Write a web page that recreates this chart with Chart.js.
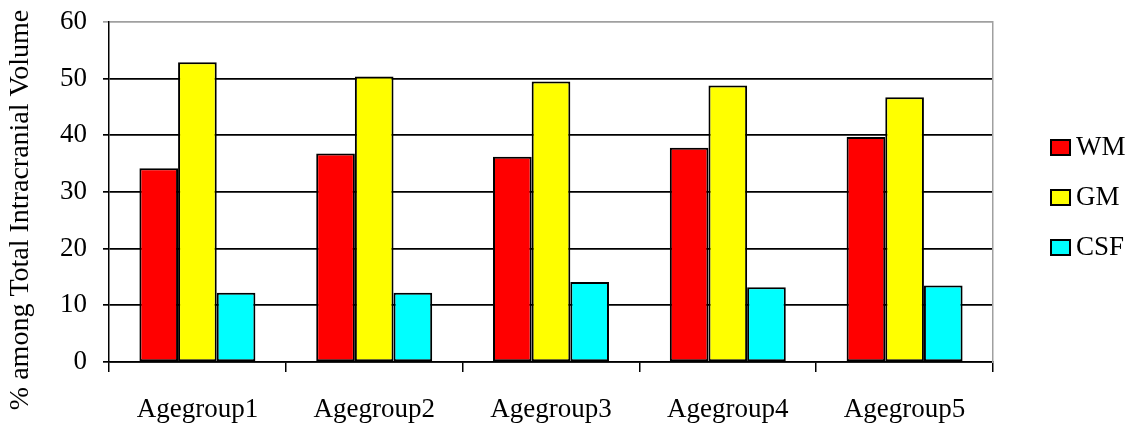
<!DOCTYPE html>
<html>
<head>
<meta charset="utf-8">
<script src="https://cdn.jsdelivr.net/npm/chart.js@4/dist/chart.umd.min.js"></script>
<style>
  html, body { margin: 0; padding: 0; background: #fff; }
  #wrap { width: 1142px; height: 429px; }
</style>
</head>
<body>
<div id="wrap"><canvas id="volumeChart" width="1142" height="429"></canvas></div>
<script>
var categories = ['Agegroup1', 'Agegroup2', 'Agegroup3', 'Agegroup4', 'Agegroup5'];
var wmValues = [34.2, 36.8, 36.2, 37.8, 39.7];
var gmValues = [52.9, 50.4, 49.5, 48.8, 46.7];
var csfValues = [12.2, 12.2, 14.1, 13.2, 13.5];
var seriesNames = ['WM', 'GM', 'CSF'];
var seriesColors = ['#ff0000', '#ffff00', '#00ffff'];
var yTitle = '% among Total Intracranial Volume';

var serifFont = "'Liberation Serif', 'Times New Roman', serif";

// legend on the right and the rotated axis title, drawn by hand
var sideDecor = {
    id: 'sideDecor',
    afterDraw: function(chart) {
        var ctx = chart.ctx;
        var area = chart.chartArea;
        var x = area.right + 58;
        var yStart = 147;
        ctx.save();
        ctx.font = '27px ' + serifFont;
        ctx.textBaseline = 'middle';
        chart.data.datasets.forEach(function(ds, i) {
            var y = yStart + i * 50;
            ctx.fillStyle = ds.backgroundColor;
            ctx.fillRect(x, y - 7, 19, 15);
            ctx.lineWidth = 2;
            ctx.strokeStyle = '#000';
            ctx.strokeRect(x, y - 7, 19, 15);
            ctx.fillStyle = '#000';
            ctx.fillText(ds.label, x + 25, y + 1);
        });

        ctx.translate(21, 210);
        ctx.rotate(-Math.PI / 2);
        ctx.font = '28px ' + serifFont;
        ctx.textAlign = 'center';
        ctx.fillStyle = '#000';
        ctx.fillText(yTitle, 0, 0);
        ctx.restore();
    }
};

function makeDataset(idx, values) {
    return {
        label: seriesNames[idx],
        data: values,
        backgroundColor: seriesColors[idx],
        borderColor: '#000',
        borderWidth: 2,
        borderSkipped: false,
        categoryPercentage: 0.656,
        barPercentage: 1.0
    };
}

new Chart(document.getElementById('volumeChart'), {
    type: 'bar',
    data: {
        labels: categories,
        datasets: [
            makeDataset(0, wmValues),
            makeDataset(1, gmValues),
            makeDataset(2, csfValues)
        ]
    },
    plugins: [sideDecor],
    options: {
        responsive: false,
        animation: false,
        devicePixelRatio: 1,
        layout: { padding: { top: 22, right: 149, left: 0, bottom: 0 } },
        plugins: {
            legend: { display: false },
            tooltip: { enabled: false }
        },
        scales: {
            x: {
                offset: true,
                grid: {
                    offset: true,
                    drawOnChartArea: false,
                    drawTicks: true,
                    tickLength: 10,
                    color: '#000',
                    lineWidth: 1.5
                },
                border: { color: '#000', width: 1.5 },
                ticks: {
                    color: '#000',
                    padding: 22,
                    font: { family: serifFont, size: 27 }
                },
                afterFit: function(scale) {
                    scale.height = 67;
                    scale.paddingLeft = 0;
                    scale.paddingRight = 0;
                }
            },
            y: {
                min: 0,
                max: 60,
                ticks: {
                    stepSize: 10,
                    color: '#000',
                    padding: 16,
                    font: { family: serifFont, size: 27 }
                },
                grid: {
                    color: function(c) { return c.tick && c.tick.value === 60 ? '#a0a0a0' : '#000'; },
                    lineWidth: 1.7,
                    drawTicks: true,
                    tickLength: 6
                },
                border: { color: '#000', width: 1.5 },
                afterFit: function(scale) {
                    scale.width = 109;
                    scale.paddingTop = 0;
                    scale.paddingBottom = 0;
                }
            },
            y2: {
                position: 'right',
                min: 0,
                max: 60,
                ticks: { display: false },
                grid: { display: false },
                border: { color: '#a0a0a0', width: 1.5 },
                afterFit: function(scale) { scale.width = 0; }
            }
        }
    }
});
</script>
</body>
</html>
